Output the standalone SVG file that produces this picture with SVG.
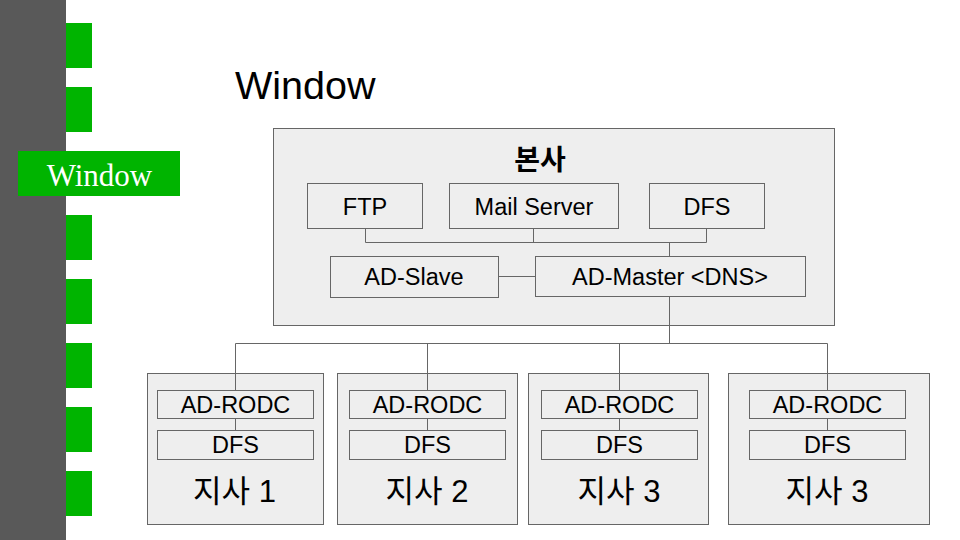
<svg xmlns="http://www.w3.org/2000/svg" width="960" height="540" viewBox="0 0 960 540">
<style>
.box{fill:#eeeeee;stroke:#666666;stroke-width:1}
.t{font-family:"Liberation Sans",Arial,sans-serif;font-size:23.5px;fill:#000;text-anchor:middle}
.k{font-family:"Liberation Sans","Noto Sans CJK KR",sans-serif;font-size:31px;fill:#000;text-anchor:middle}
.tab{fill:#00b400}
.ln{fill:none;stroke:#666666;stroke-width:1}
</style>
<rect x="0" y="0" width="960" height="540" fill="#ffffff"/>
<g id="sidebar">
<rect x="0" y="0" width="66" height="540" fill="#595959"/>
<rect class="tab" x="66" y="23" width="26" height="45"/>
<rect class="tab" x="66" y="87" width="26" height="45"/>
<rect class="tab" x="66" y="215" width="26" height="45"/>
<rect class="tab" x="66" y="279" width="26" height="45"/>
<rect class="tab" x="66" y="343" width="26" height="45"/>
<rect class="tab" x="66" y="407" width="26" height="45"/>
<rect class="tab" x="66" y="471" width="26" height="45"/>
<rect class="tab" x="18" y="151" width="162" height="45"/>
<text x="99.5" y="186" font-family="'Liberation Serif','Times New Roman',serif" font-size="31" fill="#ffffff" text-anchor="middle">Window</text>
</g>
<text x="235" y="99" font-family="'Liberation Sans',Arial,sans-serif" font-size="39.5" fill="#000">Window</text>
<g id="hq">
<rect class="box" x="273.5" y="128.5" width="561" height="197"/>
<text x="540" y="170" font-family="'Noto Sans CJK KR',sans-serif" font-size="28" font-weight="bold" text-anchor="middle">본사</text>
</g>
<g id="connectors">
<polyline class="ln" points="365.5,228 365.5,242.5 706.5,242.5 706.5,228"/>
<line class="ln" x1="533.5" y1="228" x2="533.5" y2="242.5"/>
<line class="ln" x1="669.5" y1="242.5" x2="669.5" y2="256"/>
<line class="ln" x1="498" y1="276.5" x2="535" y2="276.5"/>
<line class="ln" x1="669.5" y1="296" x2="669.5" y2="343.5"/>
<line class="ln" x1="235.5" y1="343.5" x2="827.5" y2="343.5"/>
<line class="ln" x1="235.5" y1="343.5" x2="235.5" y2="430"/>
<line class="ln" x1="427.5" y1="343.5" x2="427.5" y2="430"/>
<line class="ln" x1="619.5" y1="343.5" x2="619.5" y2="430"/>
<line class="ln" x1="827.5" y1="343.5" x2="827.5" y2="430"/>
</g>
<g id="ftp"><rect class="box" x="307.5" y="183.5" width="115" height="45"/><text class="t" x="365" y="215">FTP</text></g>
<g id="mail"><rect class="box" x="449.5" y="183.5" width="169" height="45"/><text class="t" x="534" y="215">Mail Server</text></g>
<g id="dfs-hq"><rect class="box" x="649.5" y="183.5" width="115" height="45"/><text class="t" x="707" y="215">DFS</text></g>
<g id="ad-slave"><rect class="box" x="330.5" y="256.5" width="168" height="41"/><text class="t" x="414" y="285">AD-Slave</text></g>
<g id="ad-master"><rect class="box" x="535.5" y="256.5" width="270" height="40"/><text class="t" x="670" y="285">AD-Master &lt;DNS&gt;</text></g>
<g id="branch1">
<rect class="box" x="147.5" y="373.5" width="176" height="151"/>
<line class="ln" x1="235.5" y1="373.5" x2="235.5" y2="430"/>
<rect class="box" x="157.5" y="390.5" width="156" height="28"/><text class="t" x="235.5" y="413">AD-RODC</text>
<rect class="box" x="157.5" y="430.5" width="156" height="29"/><text class="t" x="235.5" y="453">DFS</text>
<text class="k" x="234.5" y="502">지사 1</text>
</g>
<g id="branch2">
<rect class="box" x="337.5" y="373.5" width="180" height="151"/>
<line class="ln" x1="427.5" y1="373.5" x2="427.5" y2="430"/>
<rect class="box" x="349.5" y="390.5" width="156" height="28"/><text class="t" x="427.5" y="413">AD-RODC</text>
<rect class="box" x="349.5" y="430.5" width="156" height="29"/><text class="t" x="427.5" y="453">DFS</text>
<text class="k" x="427" y="502">지사 2</text>
</g>
<g id="branch3">
<rect class="box" x="528.5" y="373.5" width="180" height="151"/>
<line class="ln" x1="619.5" y1="373.5" x2="619.5" y2="430"/>
<rect class="box" x="541.5" y="390.5" width="156" height="28"/><text class="t" x="619.5" y="413">AD-RODC</text>
<rect class="box" x="541.5" y="430.5" width="156" height="29"/><text class="t" x="619.5" y="453">DFS</text>
<text class="k" x="619" y="502">지사 3</text>
</g>
<g id="branch4">
<rect class="box" x="728.5" y="373.5" width="201" height="151"/>
<line class="ln" x1="827.5" y1="373.5" x2="827.5" y2="430"/>
<rect class="box" x="749.5" y="390.5" width="156" height="28"/><text class="t" x="827.5" y="413">AD-RODC</text>
<rect class="box" x="749.5" y="430.5" width="156" height="29"/><text class="t" x="827.5" y="453">DFS</text>
<text class="k" x="827" y="502">지사 3</text>
</g>
</svg>
